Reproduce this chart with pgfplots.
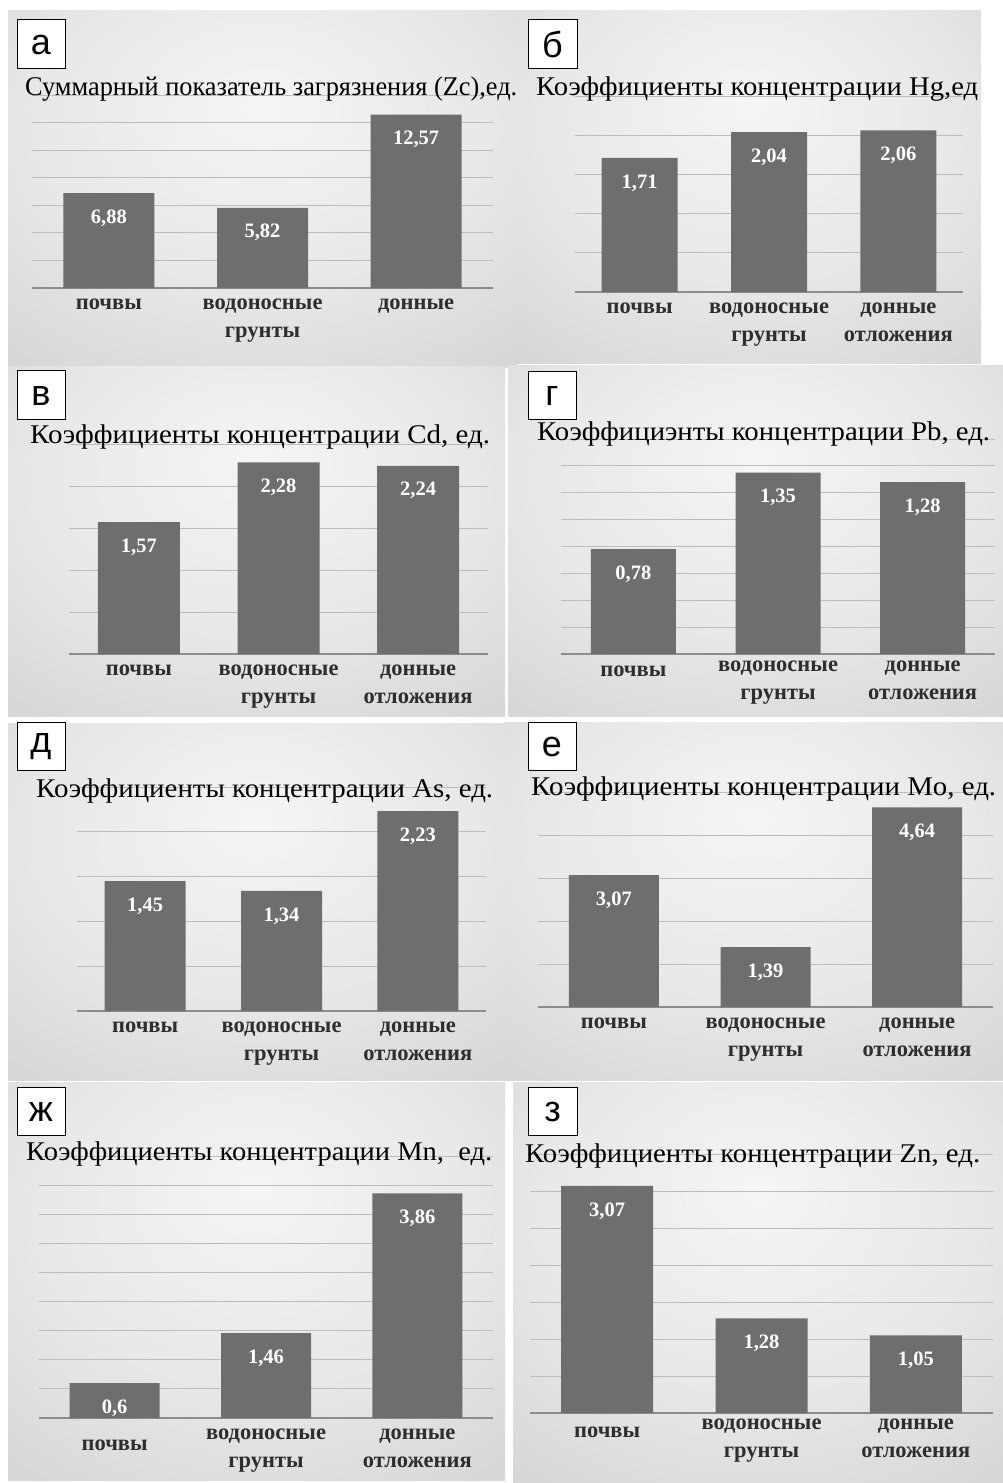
\documentclass[border=0pt]{standalone}
\usepackage{pgfplots}
\pgfplotsset{compat=1.18}
\usepackage{fontspec}
\setmainfont{Liberation Serif}
\newfontfamily\lettfont{Liberation Sans}
\definecolor{barc}{HTML}{6E6E6E}
\definecolor{gridc}{HTML}{BDBDBD}
\definecolor{axisc}{HTML}{8C8C8C}
\pgfdeclareradialshading{panelshade}{\pgfpoint{0bp}{12bp}}{color(0bp)=(black!4); color(22bp)=(black!9); color(55bp)=(black!22); color(80bp)=(black!26)}
\pgfplotsset{
  panel/.style={
    ybar, scale only axis, anchor=south west,
    xmin=-0.5, xmax=2.5, ymin=0,
    axis line style={draw=none},
    ymajorgrids, grid style={gridc, line width=0.9pt},
    yticklabels={}, major tick length=0pt,
    xtick={0,1,2},
    extra y ticks={0}, extra y tick labels={},
    extra y tick style={grid style={axisc, line width=1.1pt}},
    xticklabel style={font=\bfseries\fontsize{22.5}{28}\selectfont, align=center, text=black!82, inner sep=0pt, yshift=-11pt},
    point meta=explicit symbolic,
    nodes near coords,
    nodes near coords align={below},
    every node near coord/.append style={font=\bfseries\fontsize{20.5}{24}\selectfont, text=white, yshift=-13pt},
    clip=false,
  },
  barst/.style={fill=barc, draw=none},
}
\newcommand\letterbox[5]{\draw[black, line width=1pt, fill=white] (#1pt,-#2pt) rectangle (#3pt,-#4pt);
  \node[font=\lettfont\fontsize{36}{40}\selectfont, inner sep=0pt] at ({(#1+#3)/2*1pt},{-(#2+#4)/2*1pt-1pt}) {#5};}
\newcommand\ptitle[4]{\node[anchor=base west, inner sep=0pt] at (#1pt,-#2pt) {\resizebox{#3pt}{\height}{\fontsize{27}{32}\selectfont #4}};}
\begin{document}
\begin{tikzpicture}
\fill[white] (0pt,0pt) rectangle (1003pt,-1483pt);
% backgrounds
\shade[shading=panelshade] (8pt,-10pt) rectangle (517pt,-367pt);
\shade[shading=panelshade] (517pt,-10pt) rectangle (981pt,-363pt);
\shade[shading=panelshade] (8pt,-366pt) rectangle (505pt,-716pt);
\shade[shading=panelshade] (508pt,-365pt) rectangle (1003pt,-716pt);
\shade[shading=panelshade] (8pt,-723pt) rectangle (505pt,-1080pt);
\shade[shading=panelshade] (505pt,-722pt) rectangle (1003pt,-1080pt);
\shade[shading=panelshade] (8pt,-1082pt) rectangle (505pt,-1480pt);
\shade[shading=panelshade] (513pt,-1082pt) rectangle (1003pt,-1483pt);

% а
\begin{axis}[panel, at={(32pt,-288pt)}, width=461pt, height=193pt, ymax=14, ytick distance=2, bar width=91pt,
  xticklabels={почвы, водоносные\\грунты, донные}]
\addplot[barst] table[meta=lab] {
x y lab
0 6.88 6,88
1 5.82 5,82
2 12.57 12,57
};
\end{axis}
% б
\begin{axis}[panel, at={(575pt,-292pt)}, width=388pt, height=196pt, ymax=2.5, ytick distance=0.5, bar width=76pt,
  xticklabels={почвы, водоносные\\грунты, донные\\отложения}]
\addplot[barst] table[meta=lab] {
x y lab
0 1.71 1,71
1 2.04 2,04
2 2.06 2,06
};
\end{axis}
% в
\begin{axis}[panel, at={(69pt,-654pt)}, width=419pt, height=210pt, ymax=2.5, ytick distance=0.5, bar width=82pt,
  xticklabels={почвы, водоносные\\грунты, донные\\отложения}]
\addplot[barst] table[meta=lab] {
x y lab
0 1.57 1,57
1 2.28 2,28
2 2.24 2,24
};
\end{axis}
% г
\begin{axis}[panel, at={(561pt,-654pt)}, width=434pt, height=215pt, ymax=1.6, ytick distance=0.2, bar width=85pt,
  xticklabels={\rule{0pt}{15pt}почвы, водоносные\\грунты, донные\\отложения},
  xticklabel style={yshift=4pt}]
\addplot[barst] table[meta=lab] {
x y lab
0 0.78 0,78
1 1.35 1,35
2 1.28 1,28
};
\end{axis}
% д
\begin{axis}[panel, at={(77pt,-1011pt)}, width=409pt, height=224pt, ymax=2.5, ytick distance=0.5, bar width=81pt,
  xticklabels={почвы, водоносные\\грунты, донные\\отложения}]
\addplot[barst] table[meta=lab] {
x y lab
0 1.45 1,45
1 1.34 1,34
2 2.23 2,23
};
\end{axis}
% е
\begin{axis}[panel, at={(538pt,-1007pt)}, width=455pt, height=215pt, ymax=5, ytick distance=1, bar width=90pt,
  xticklabels={почвы, водоносные\\грунты, донные\\отложения}]
\addplot[barst] table[meta=lab] {
x y lab
0 3.07 3,07
1 1.39 1,39
2 4.64 4,64
};
\end{axis}
% ж
\begin{axis}[panel, at={(39pt,-1418pt)}, width=454pt, height=262pt, ymax=4.5, ytick distance=0.5, bar width=90pt,
  xticklabels={\rule{0pt}{21pt}почвы, водоносные\\грунты, донные\\отложения}]
\addplot[barst] table[meta=lab] {
x y lab
0 0.6 0,6
1 1.46 1,46
2 3.86 3,86
};
\end{axis}
% з
\begin{axis}[panel, at={(530pt,-1413pt)}, width=463pt, height=259pt, ymax=3.5, ytick distance=0.5, bar width=92pt,
  xticklabels={\rule{0pt}{18pt}почвы, водоносные\\грунты, донные\\отложения},
  xticklabel style={yshift=5pt}]
\addplot[barst] table[meta=lab] {
x y lab
0 3.07 3,07
1 1.28 1,28
2 1.05 1,05
};
\end{axis}

% titles
\ptitle{25}{95}{492}{Суммарный показатель загрязнения (Zc),ед.}
\ptitle{536}{95}{442}{Коэффициенты концентрации Hg,ед}
\ptitle{30}{443}{460}{Коэффициенты концентрации Cd, ед.}
\ptitle{537}{440}{453}{Коэффициэнты концентрации Pb, ед.}
\ptitle{36}{797}{457}{Коэффициенты концентрации As, ед.}
\ptitle{531}{795}{465}{Коэффициенты концентрации Mo, ед.}
\ptitle{26}{1160}{466}{Коэффициенты концентрации Mn,\ \ ед.}
\ptitle{525}{1162}{455}{Коэффициенты концентрации Zn, ед.}

% letters
\letterbox{17}{19}{65}{68}{а}
\letterbox{528}{19}{577}{68}{б}
\letterbox{17}{370}{65}{419}{в}
\letterbox{528}{371}{576}{419}{г}
\letterbox{17}{722}{65}{770}{д}
\letterbox{528}{722}{576}{770}{е}
\letterbox{17}{1087}{65}{1135}{ж}
\letterbox{528}{1087}{577}{1135}{з}
\end{tikzpicture}
\end{document}
